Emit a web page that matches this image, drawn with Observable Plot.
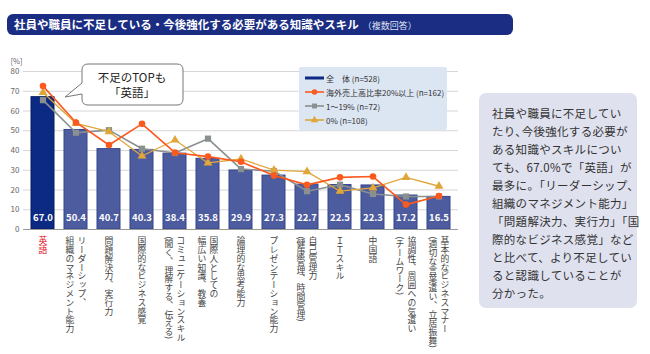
<!DOCTYPE html>
<html><head><meta charset="utf-8">
<script src="https://cdn.jsdelivr.net/npm/d3@7"></script>
<script src="https://cdn.jsdelivr.net/npm/@observablehq/plot@0.6"></script>
<style>
body{margin:0;background:#fff;font-family:"Noto Sans CJK JP","Noto Sans",sans-serif;}
#wrap{position:relative;width:650px;height:354px;overflow:hidden;background:#fff;}
#title{position:absolute;left:7px;top:14px;width:499px;height:21px;padding-left:7px;background:#1b2d83;border-radius:6px;color:#fff;font-weight:bold;font-size:11.5px;line-height:21px;white-space:nowrap;}
#title small{font-size:9px;font-weight:normal;color:#dfe3f2;margin-left:4px;}
#chart{position:absolute;left:0;top:40px;}
#legend{position:absolute;left:299px;top:67px;width:148px;height:63px;background:#dce6f3;border-radius:2px;}
.lrow{position:absolute;left:6px;height:14px;display:flex;align-items:center;font-size:8px;color:#333;white-space:nowrap;}
.lrow svg{margin-right:2px;}
#callout{position:absolute;left:0;top:0;}
#note{position:absolute;left:479px;top:93px;width:145px;height:204px;padding:11px 0 0 13px;background:#dfe1ee;border-radius:7px;font-size:11.5px;line-height:18px;color:#333;white-space:nowrap;letter-spacing:0.3px;}
</style></head><body><div id="wrap">
<div id="title">社員や職員に不足している・今後強化する必要がある知識やスキル<small>（複数回答）</small></div>
<div id="chart"></div>
<svg id="callout" width="650" height="354"></svg>
<div id="legend"></div>
<div id="note">社員や職員に不足してい<br>たり､今後強化する必要が<br>ある知識やスキルについ<br>ても、67.0%で「英語」が<br>最多に。「リーダーシップ、<br>組織のマネジメント能力」<br>「問題解決力、実行力」「国<br>際的なビジネス感覚」など<br>と比べて、より不足してい<br>ると認識していることが<br>分かった。</div>
</div>
<script>
// ---- data ----
const categories = ["英語","リーダーシップ","問題解決力","国際的なビジネス感覚","コミュニケーションスキル","国際人","論理的な思考能力","プレゼンテーション能力","自己管理力","ITスキル","中国語","協調性","基本的なビジネスマナー"];
const labelLine1 = ["英語","リーダーシップ、","問題解決力、実行力","国際的なビジネス感覚","コミュニケーションスキル","国際人としての","論理的な思考能力","プレゼンテーション能力","自己管理力","ＩＴスキル","中国語","協調性、周囲への気遣い","基本的なビジネスマナー"];
const labelLine2 = ["","組織のマネジメント能力","","","(聞く、理解する、伝える)","幅広い知識、教養","","","(健康管理、時間管理)","","","(チームワーク)","(適切な言葉遣い、立居振舞)"];
const total    = [67.0, 50.4, 40.7, 40.3, 38.4, 35.8, 29.9, 27.3, 22.7, 22.5, 22.3, 17.2, 16.5];
const overseas = [72.6, 54.2, 42.8, 53.5, 38.9, 36.9, 34.3, 27.3, 22.6, 26.4, 26.8, 12.6, 17.0];
const mid      = [65.5, 49.0, 50.3, 40.9, 38.7, 46.0, 30.6, 29.5, 19.4, 22.7, 18.0, 16.7, 16.7];
const zero     = [69.4, 53.7, 49.5, 37.2, 45.3, 33.7, 35.7, 30.1, 29.3, 19.4, 21.1, 26.4, 21.9];
const seriesNames = ["全　体 (n=528)","海外売上高比率20%以上 (n=162)","1～19% (n=72)","0% (n=108)"];
const yTicks = [0,10,20,30,40,50,60,70,80];
const yLabel = "[%]";
const calloutLines = ["不足のTOPも","「英語」"];

// ---- styles ----
const C = {top:"#0c2a84", topStroke:"#061c5c", bar:"#4d5c9f", barStroke:"#34458a", orange:"#fa5a1e", gray:"#8a8f8f", gold:"#e0a63a", red:"#e60012", label:"#444"};

const data = categories.map((c,i)=>({cat:c, total:total[i], overseas:overseas[i], mid:mid[i], zero:zero[i], l1:labelLine1[i], l2:labelLine2[i], first:i===0}));
const single = data.filter(d=>!d.l2);
const dbl = data.filter(d=>d.l2);

const chart = Plot.plot({
  width:465, height:314,
  marginLeft:23, marginRight:7, marginTop:31, marginBottom:125,
  style:{fontFamily:'"Noto Sans CJK JP","Noto Sans",sans-serif', background:"transparent"},
  x:{domain:categories, paddingInner:0.3, paddingOuter:0.15, axis:null},
  y:{domain:[0,80], axis:null},
  color:{type:"identity"},
  marks:[
    Plot.gridY(yTicks.filter(v=>v>0), {stroke:"#d6d6d6", strokeOpacity:1, strokeWidth:1}),
    Plot.axisY(yTicks, {tickSize:0, tickPadding:4, fontSize:8, fill:"#666", label:null}),
    Plot.text([yLabel], {frameAnchor:"top-left", text:d=>d, dx:-13, dy:-13, fontSize:7.5, fill:"#666", textAnchor:"start"}),
    Plot.barY(data, {x:"cat", y:"total", fill:d=>d.first?C.top:C.bar, stroke:d=>d.first?C.topStroke:C.barStroke, strokeWidth:1}),
    Plot.ruleY([0], {stroke:"#999"}),
    Plot.text(data, {x:"cat", frameAnchor:"bottom", dy:-9, text:d=>d.total.toFixed(1), fill:"#fff", fontWeight:"bold", fontSize:9.5}),
    Plot.line(data, {x:"cat", y:"mid", stroke:C.gray, strokeWidth:1.6}),
    Plot.dot(data, {x:"cat", y:"mid", symbol:"square", r:3.5, fill:C.gray}),
    Plot.line(data, {x:"cat", y:"zero", stroke:C.gold, strokeWidth:1.3}),
    Plot.dot(data, {x:"cat", y:"zero", symbol:"triangle", r:3.3, fill:C.gold}),
    Plot.line(data, {x:"cat", y:"overseas", stroke:C.orange, strokeWidth:1.6}),
    Plot.dot(data, {x:"cat", y:"overseas", symbol:"circle", r:3.3, fill:C.orange}),
    Plot.text(single, {x:"cat", frameAnchor:"bottom", dy:7, text:"l1", textAnchor:"start", fontSize:8.8, fill:d=>d.first?C.red:C.label}),
    Plot.text(dbl, {x:"cat", frameAnchor:"bottom", dy:7, dx:6, text:"l1", textAnchor:"start", fontSize:8.8, fill:C.label}),
    Plot.text(dbl, {x:"cat", frameAnchor:"bottom", dy:7, dx:-6, text:"l2", textAnchor:"start", fontSize:8.8, fill:C.label})
  ]
});
document.getElementById("chart").appendChild(chart);
const labelTexts = new Set([...labelLine1, ...labelLine2].filter(Boolean));
d3.select(chart).selectAll("text").filter(function(){ return labelTexts.has(this.textContent); })
  .style("writing-mode","vertical-rl").style("text-orientation","mixed").attr("dy",null);

// ---- legend ----
const leg = d3.select("#legend");
const legColors = [C.top, C.orange, C.gray, C.gold];
const legSymbols = [null, d3.symbolCircle, d3.symbolSquare, d3.symbolTriangle];
seriesNames.forEach((name,i)=>{
  const row = leg.append("div").attr("class","lrow").style("top",(4+i*14)+"px");
  const s = row.append("svg").attr("width",19).attr("height",10);
  s.append("line").attr("x1",0).attr("x2",19).attr("y1",5).attr("y2",5).attr("stroke",legColors[i]).attr("stroke-width",i===0?3:1.6);
  if(legSymbols[i]) s.append("path").attr("transform","translate(9.5,5)").attr("d",d3.symbol(legSymbols[i], 24)()).attr("fill",legColors[i]);
  row.append("span").text(name);
});

// ---- callout ----
const co = d3.select("#callout");
co.append("path").attr("d","M88,64 H177 Q183,64 183,70 V99 Q183,105 177,105 H88 Q82,105 82,99 V94 L65,97 L82,83 V70 Q82,64 88,64 Z")
  .attr("fill","#fff").attr("stroke","#777").attr("stroke-width",1);
calloutLines.forEach((t,i)=>{
  co.append("text").attr("x",132).attr("y",82+i*15).attr("text-anchor","middle").attr("font-size",11.5).attr("fill","#222").text(t);
});
</script>
</body></html>
